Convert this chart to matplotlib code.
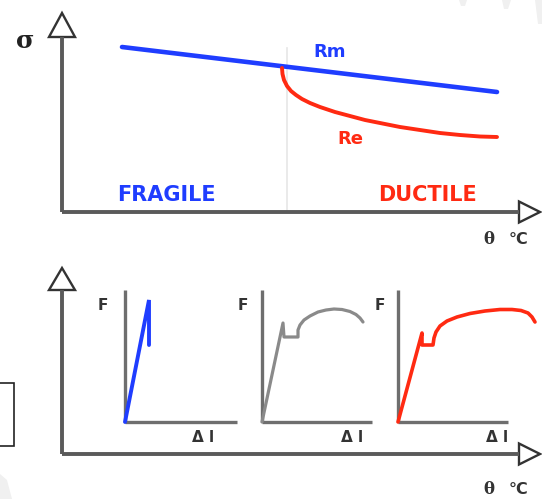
import matplotlib
matplotlib.use("Agg")
import matplotlib.pyplot as plt
from matplotlib.patches import Polygon, Rectangle

W, H = 542, 499

# --- top diagram data (diagram pixel units) ---
rm_x = [122, 497]
rm_y = [47, 92]
re_x = [282, 282.5, 284, 287, 291, 296, 302, 310, 320, 335, 350, 365, 380, 400, 420, 440, 460, 480, 497]
re_y = [68, 74, 80, 86, 91, 95, 99, 103, 107, 112, 116, 120, 123, 127, 130, 133, 135, 136.5, 137]
transition_x = 287

# --- bottom diagram: three tensile curves ---
fragile_x = [125, 149, 149]
fragile_y = [422, 300, 345]
inter_x = [262, 283, 284, 298, 298, 300, 304, 310, 318, 326, 334, 342, 350, 356, 360, 363]
inter_y = [422, 323, 337, 337, 330, 325, 320, 316, 312, 310, 309, 309.5, 311.5, 314.5, 318, 322]
ductile_x = [398, 422, 422, 433, 434, 436, 440, 447, 457, 470, 485, 500, 512, 521, 528, 532, 535]
ductile_y = [422, 333, 345, 345, 338, 332, 326, 321, 317, 313.5, 311, 309.5, 309.5, 310.5, 313, 317, 322]
sub_origins = [125, 262, 398]
sub_ends = [237, 372, 508]
dl_centers = [203, 352, 497]
f_labels_x = [103, 243, 380]

BLUE = "#1f3dff"
RED = "#ff2a12"
AX = "#5a5a5a"
SUBAX = "#6e6e6e"

fig = plt.figure(figsize=(W / 100, H / 100), dpi=100)
ax = fig.add_axes([0, 0, 1, 1])
ax.set_xlim(0, W)
ax.set_ylim(H, 0)
ax.axis("off")

def arrow_axes(y_top_tip, y_base, x0, y_axis):
    ax.plot([x0, x0], [y_axis, y_base], color=AX, lw=2.8, solid_capstyle="butt")
    ax.add_patch(Polygon([[x0, y_top_tip], [x0 - 13, y_base], [x0 + 13, y_base]],
                         closed=True, fill=False, edgecolor="#333333", lw=1.7))
    ax.plot([x0, 519], [y_axis, y_axis], color=AX, lw=2.8, solid_capstyle="butt")
    ax.add_patch(Polygon([[540, y_axis], [519, y_axis - 10.5], [519, y_axis + 10.5]],
                         closed=True, fill=False, edgecolor="#333333", lw=1.7))

# top
ax.plot([transition_x, transition_x], [48, 212], color="#e6e6e6", lw=1.2)
arrow_axes(13, 37, 62, 212)
ax.plot(rm_x, rm_y, color=BLUE, lw=3.3, solid_capstyle="round")
ax.plot(re_x, re_y, color=RED, lw=2.8, solid_capstyle="round")

bold = dict(family="DejaVu Sans", fontweight="bold")
ax.text(330, 52, "Rm", color=BLUE, fontsize=13, ha="center", va="center", **bold)
ax.text(350, 139, "Re", color=RED, fontsize=13, ha="center", va="center", **bold)
ax.text(166, 195, "FRAGILE", color=BLUE, fontsize=15, ha="center", va="center", **bold)
ax.text(427, 195, "DUCTILE", color=RED, fontsize=15, ha="center", va="center", **bold)
ax.text(25, 41, "σ", color="#222222", fontsize=18, ha="center", va="center",
        family="DejaVu Serif", fontweight="bold")
for yy in (240, 489):
    ax.text(489, yy, "θ", color="#333333", fontsize=12, ha="center", va="center",
            family="DejaVu Serif", fontweight="bold")
    ax.text(519, yy, "°C", color="#333333", fontsize=11.5, ha="center", va="center", **bold)

# bottom
arrow_axes(268, 290, 62, 454)
for x0, x1, dx, fx in zip(sub_origins, sub_ends, dl_centers, f_labels_x):
    ax.plot([x0, x0], [290, 422], color=SUBAX, lw=2.4, solid_capstyle="butt")
    ax.plot([x0, x1], [422, 422], color=SUBAX, lw=2.4, solid_capstyle="butt")
    ax.text(fx, 306, "F", color="#333333", fontsize=11, ha="center", va="center", **bold)
    ax.text(dx, 438, "Δ l", color="#333333", fontsize=11, ha="center", va="center", **bold)
ax.plot(fragile_x, fragile_y, color=BLUE, lw=2.8, solid_capstyle="round", solid_joinstyle="miter")
ax.plot(inter_x, inter_y, color="#8a8a8a", lw=2.3, solid_capstyle="round")
ax.plot(ductile_x, ductile_y, color=RED, lw=2.6, solid_capstyle="round")

# left partial box
ax.add_patch(Rectangle((-5, 383), 19, 63, fill=False, edgecolor="#222222", lw=1.2))

# faint watermark fragments
for pts in ([[459, 0], [467, 0], [465, 6], [461, 6]],
            [[502, 0], [511, 0], [508, 9], [504, 9]],
            [[535, 0], [542, 0], [542, 24], [538, 24]],
            [[0, 474], [7, 480], [12, 499], [0, 499]]):
    ax.add_patch(Polygon(pts, closed=True, facecolor="#f0f0f0", edgecolor="none"))

fig.savefig("out.png", dpi=100)
